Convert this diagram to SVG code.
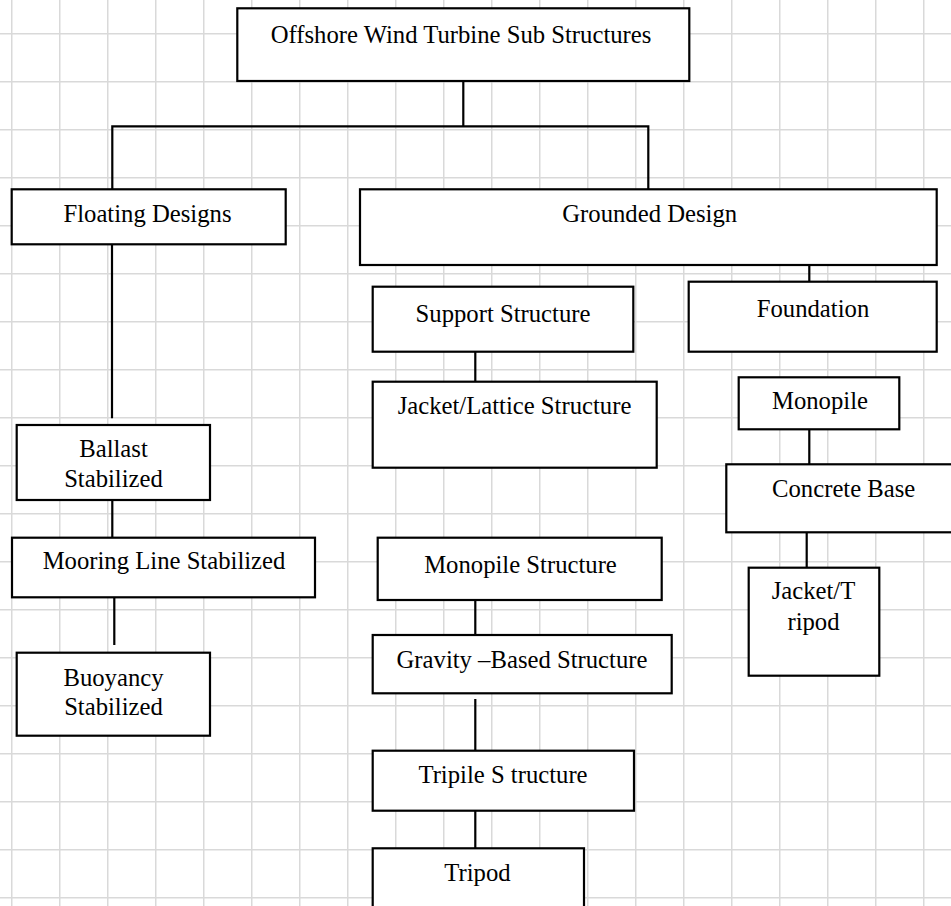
<svg xmlns="http://www.w3.org/2000/svg" width="951" height="906" viewBox="0 0 951 906">
<defs>
<pattern id="grid" x="11" y="33" width="48" height="48" patternUnits="userSpaceOnUse">
<path d="M0 0V48M0 0H48" fill="none" stroke="#d9d9d9" stroke-width="3"/>
</pattern>
</defs>
<style>
.box{fill:#fff;stroke:#000;stroke-width:2.2}
.t{font-family:"Liberation Serif","Times New Roman",serif;font-size:24.7px;fill:#000;text-anchor:middle}
.c{fill:none;stroke:#000;stroke-width:2.2}
</style>
<rect width="951" height="906" fill="#fff"/>
<rect width="951" height="906" fill="url(#grid)"/>
<g id="connectors">
<path class="c" d="M463.3 81V126.3M112.3 126.3H648.3M112.3 125.2V189.3M648.3 125.2V189.3"/>
<path class="c" d="M112 244.3V418.3M112.3 500V537.7M114.3 597.3V645"/>
<path class="c" d="M809.3 265V281.7M475.3 351.7V381.7M475.3 600V635M475.3 699V750.7M475.3 810.7V848.3"/>
<path class="c" d="M809.3 427.7V464.3M806.7 532.3V567.7"/>
</g>
<g id="root"><rect class="box" x="237.3" y="8.3" width="452" height="72.7"/><text class="t" x="461" y="43.3">Offshore Wind Turbine Sub Structures</text></g>
<g id="floating"><rect class="box" x="11.7" y="189.3" width="274" height="55"/><text class="t" x="147.5" y="221.7">Floating Designs</text></g>
<g id="ballast"><rect class="box" x="16.7" y="425" width="193.3" height="75"/><text class="t" x="113.5" y="457.3">Ballast</text><text class="t" x="113.5" y="487.3">Stabilized</text></g>
<g id="mooring"><rect class="box" x="12" y="537.7" width="303" height="59.6"/><text class="t" x="164" y="569.3">Mooring Line Stabilized</text></g>
<g id="buoyancy"><rect class="box" x="16.7" y="652.7" width="193.3" height="83"/><text class="t" x="113.5" y="686">Buoyancy</text><text class="t" x="113.5" y="715">Stabilized</text></g>
<g id="grounded"><rect class="box" x="360" y="189.3" width="576.7" height="75.7"/><text class="t" x="649.7" y="221.7">Grounded Design</text></g>
<g id="support"><rect class="box" x="372.7" y="286.7" width="260.6" height="65"/><text class="t" x="503" y="321.7">Support Structure</text></g>
<g id="jacket-lattice"><rect class="box" x="372.7" y="381.7" width="284" height="86"/><text class="t" x="514.5" y="414.3">Jacket/Lattice Structure</text></g>
<g id="monopile-structure"><rect class="box" x="377.7" y="537.7" width="284" height="62.3"/><text class="t" x="520.5" y="573.3">Monopile Structure</text></g>
<g id="gravity"><rect class="box" x="372.7" y="635" width="299" height="58.3"/><text class="t" x="522" y="668.3">Gravity –Based Structure</text></g>
<g id="tripile"><rect class="box" x="372.7" y="750.7" width="261.3" height="60"/><text class="t" x="503" y="782.7">Tripile S tructure</text></g>
<g id="tripod"><rect class="box" x="372.7" y="848.3" width="211.3" height="70"/><text class="t" x="477.5" y="880.7">Tripod</text></g>
<g id="foundation"><rect class="box" x="688.7" y="281.7" width="248" height="70"/><text class="t" x="813" y="316.7">Foundation</text></g>
<g id="monopile"><rect class="box" x="738.7" y="377.3" width="160.6" height="52"/><text class="t" x="820" y="409.3">Monopile</text></g>
<g id="concrete"><rect class="box" x="726.3" y="464.3" width="240" height="68"/><text class="t" x="843.7" y="497.3">Concrete Base</text></g>
<g id="jacket-tripod"><rect class="box" x="748.7" y="567.7" width="130.6" height="108"/><text class="t" x="813.5" y="599.3">Jacket/T</text><text class="t" x="813.5" y="630">ripod</text></g>
</svg>
